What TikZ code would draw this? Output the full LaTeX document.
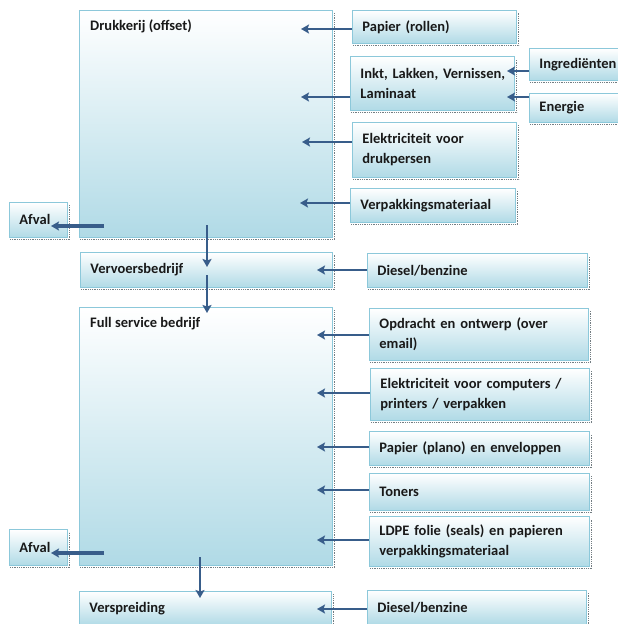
\documentclass[tikz,border=0pt]{standalone}
\usepackage{fontspec}
\setmainfont{Carlito}
\usetikzlibrary{arrows.meta,calc}
\definecolor{bord}{RGB}{140,200,218}
\definecolor{fillbot}{RGB}{176,218,230}
\definecolor{arrblue}{RGB}{56,93,138}
\definecolor{shad}{RGB}{115,125,130}
\begin{document}
\begin{tikzpicture}[x=1pt,y=-1pt,
  font=\fontsize{14.5}{20}\selectfont\bfseries,
  box/.style={draw=bord, line width=0.9pt, top color=white, bottom color=fillbot,
    anchor=north west, inner xsep=10pt, inner ysep=0pt, align=left, text=black!90},
  biglabel/.style={anchor=base west, inner sep=0pt, xshift=11pt, yshift=-20pt, text=black!90},
  arr/.style={draw=arrblue, line width=2.6pt, -{Stealth[length=8pt,width=9pt,inset=1.5pt]}},
  thickarr/.style={arr, line width=3.2pt},
  shadowline/.style={draw=shad, line width=1pt, dash pattern=on 0.9pt off 0.9pt}]
\useasboundingbox (0,0) rectangle (618,624);
\clip (0,0) rectangle (618,624);
% big boxes
\node[box, text width=233pt, minimum height=227pt,
  label={[biglabel]north west:Drukkerij (offset)}] (druk) at (79,10) {};
\node[box, text width=233pt, minimum height=258pt,
  label={[biglabel]north west:Full service bedrijf}] (full) at (79,307) {};
\node[box, text width=232pt, minimum height=35pt] (vervoer) at (80,252) {Vervoersbedrijf};
\node[box, text width=232pt, minimum height=34pt] (verspr) at (79,591) {Verspreiding\\[-6pt]};
% waste
\node[box, text width=38pt, minimum height=35pt] (afval1) at (9,202) {Afval\\[-4pt]};
\node[box, text width=38pt, minimum height=36pt] (afval2) at (9,529) {Afval\\[-4pt]};
% inputs printing
\node[box, text width=144pt, minimum height=33pt] (papier) at (352,10) {Papier (rollen)};
\node[box, text width=144pt, minimum height=54pt] (inkt) at (350,56) {\mbox{Inkt, Lakken, Vernissen,}\\Laminaat};
\node[box, text width=120pt, minimum height=32pt] (ingr) at (529,48) {Ingrediënten};
\node[box, text width=120pt, minimum height=29pt] (energie) at (529,93) {Energie};
\node[box, text width=144pt, minimum height=55pt] (elek1) at (352,122) {Elektriciteit voor\\drukpersen};
\node[box, text width=145pt, minimum height=34pt] (verp1) at (350,188) {Verpakkingsmateriaal};
% transport input
\node[box, text width=200pt, minimum height=34pt] (diesel1) at (367,253) {Diesel/benzine};
% full service inputs
\node[box, text width=199pt, minimum height=52pt] (opdracht) at (369,308) {Opdracht en ontwerp (over\\email)};
\node[box, text width=199pt, minimum height=52pt] (elek2) at (370,368) {\mbox{Elektriciteit voor computers /}\\printers / verpakken};
\node[box, text width=200pt, minimum height=34pt] (papier2) at (369,431) {Papier (plano) en enveloppen};
\node[box, text width=200pt, minimum height=37pt] (toners) at (369,473) {Toners};
\node[box, text width=200pt, minimum height=50pt] (ldpe) at (369,516) {\mbox{LDPE folie (seals) en papieren}\\verpakkingsmateriaal};
\node[box, text width=199pt, minimum height=34pt] (diesel2) at (367,590) {Diesel/benzine\\[-6pt]};
% shadows
\foreach \n in {druk,full,vervoer,verspr,afval1,afval2,papier,inkt,ingr,energie,elek1,verp1,diesel1,opdracht,elek2,papier2,toners,ldpe,diesel2}{
  \draw[shadowline] ([shift={(1pt,-1.8pt)}]\n.south west) -- ([shift={(1.8pt,-1.8pt)}]\n.south east)
    -- ([shift={(1.8pt,-3pt)}]\n.north east);
}
% coordinates for arrow ends
\coordinate (tPap) at (301,29);
\coordinate (tInk) at (301,97);
\coordinate (tEl1) at (302,142);
\coordinate (tVer) at (300,203);
\coordinate (tIng) at (507,71);
\coordinate (tEne) at (507,97);
\coordinate (sAf1) at (104,226);
\coordinate (tAf1) at (51,226);
\coordinate (sDV) at (207,225);
\coordinate (tDV) at (207,267);
\coordinate (sVF) at (207,275);
\coordinate (tVF) at (207,313);
\coordinate (tDi1) at (317,270);
\coordinate (tOpd) at (317,335);
\coordinate (tEl2) at (317,393);
\coordinate (tPa2) at (317,447);
\coordinate (tTon) at (317,490);
\coordinate (tLdp) at (317,540);
\coordinate (sAf2) at (104,553);
\coordinate (tAf2) at (51,553);
\coordinate (sFV) at (200,557);
\coordinate (tFV) at (200,598);
\coordinate (tDi2) at (317,609);
% arrows
\draw[arr] (papier.west |- tPap) -- (tPap);
\draw[arr] (inkt.west |- tInk) -- (tInk);
\draw[arr] (elek1.west |- tEl1) -- (tEl1);
\draw[arr] (verp1.west |- tVer) -- (tVer);
\draw[arr] (ingr.west |- tIng) -- (tIng);
\draw[arr] (energie.west |- tEne) -- (tEne);
\draw[thickarr] (sAf1) -- (tAf1);
\draw[arr] (sDV) -- (tDV);
\draw[arr] (sVF) -- (tVF);
\draw[arr] (diesel1.west |- tDi1) -- (tDi1);
\draw[arr] (opdracht.west |- tOpd) -- (tOpd);
\draw[arr] (elek2.west |- tEl2) -- (tEl2);
\draw[arr] (papier2.west |- tPa2) -- (tPa2);
\draw[arr] (toners.west |- tTon) -- (tTon);
\draw[arr] (ldpe.west |- tLdp) -- (tLdp);
\draw[thickarr] (sAf2) -- (tAf2);
\draw[arr] (sFV) -- (tFV);
\draw[arr] (diesel2.west |- tDi2) -- (tDi2);
\end{tikzpicture}
\end{document}
